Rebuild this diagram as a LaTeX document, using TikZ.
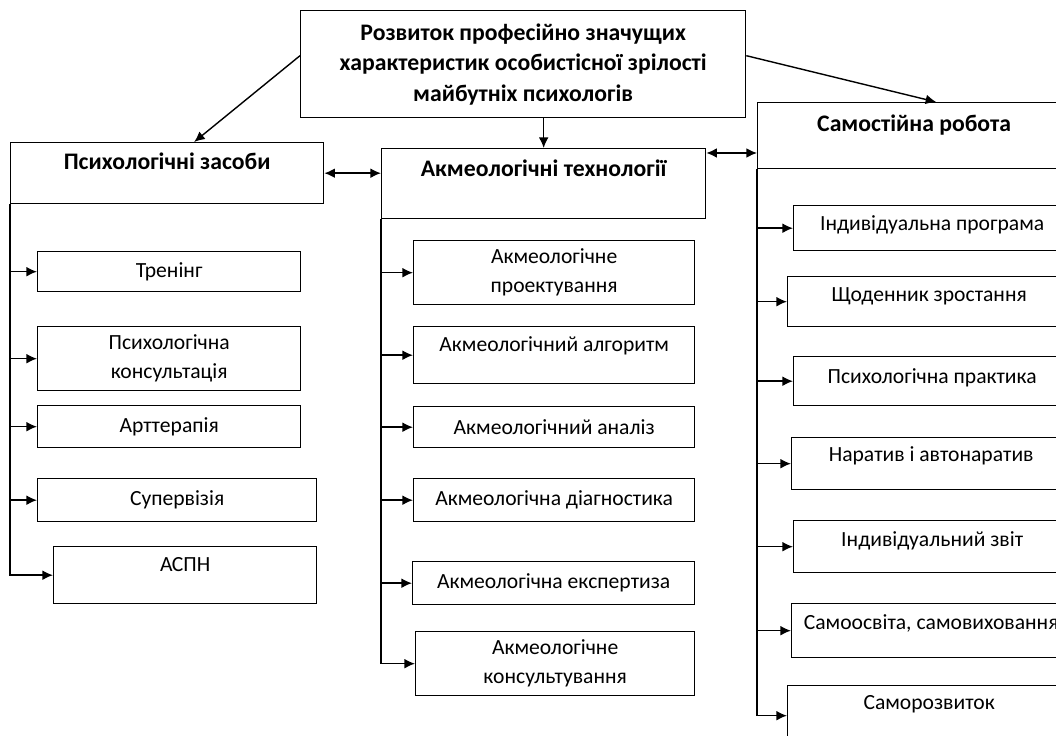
\documentclass[tikz,border=0pt]{standalone}
\usepackage{fontspec}
\setmainfont{Carlito}
\usetikzlibrary{positioning}
\usetikzlibrary{arrows.meta}

\begin{document}
\begin{tikzpicture}[x=0.02cm,y=-0.02cm,
 box/.style={draw,line width=0.8pt,anchor=north west,inner sep=2pt,align=center,font=\fontsize{12.3}{16.5}\selectfont},
 head/.style={box,font=\bfseries\fontsize{13.5}{17.4}\selectfont},
 up/.style={text height=9pt,text depth=#1},
 arr/.style={line width=0.8pt,-{Latex[length=6pt,width=5.5pt]}},
 both/.style={line width=0.8pt,{Latex[length=6pt,width=5.5pt]}-{Latex[length=6pt,width=5.5pt]}}]
 \clip (0,0) rectangle (1056,736);
 \node[head,minimum width=8.9cm,minimum height=2.14cm] (top) at (300,10) {Розвиток професійно значущих\\характеристик особистісної зрілості\\майбутніх психологів};
 \node[head,up=13.2pt,minimum width=6.26cm,minimum height=1.22cm] (psy) at (10,142) {Психологічні засоби};
 \node[head,up=17.7pt,minimum width=6.48cm,minimum height=1.4cm] (akme) at (381,148) {Акмеологічні технології};
 \node[head,up=14.3pt,minimum width=6.26cm,minimum height=1.32cm] (self) at (757,102) {Самостійна робота};

 \node[box,minimum width=5.26cm,minimum height=0.8cm] (tr) at (37,251) {Тренінг};
 \node[box,minimum width=5.26cm,minimum height=1.28cm] (kons) at (37,326) {Психологічна\\консультація};
 \node[box,minimum width=5.26cm,minimum height=0.84cm] (art) at (37,405) {Арттерапія};
 \node[box,minimum width=5.58cm,minimum height=0.86cm] (sup) at (37,478) {Супервізія};
 \node[box,up=13.2pt,minimum width=5.26cm,minimum height=1.14cm] (aspn) at (53,546) {АСПН};

 \node[box,minimum width=5.62cm,minimum height=1.28cm] (proj) at (413,240) {Акмеологічне\\проектування};
 \node[box,up=13.2pt,minimum width=5.62cm,minimum height=1.14cm] (alg) at (413,326) {Акмеологічний алгоритм};
 \node[box,minimum width=5.62cm,minimum height=0.82cm] (anal) at (413,406) {Акмеологічний аналіз};
 \node[box,minimum width=5.62cm,minimum height=0.86cm] (diag) at (413,478) {Акмеологічна діагностика};
 \node[box,minimum width=5.64cm,minimum height=0.86cm] (exp) at (412,561) {Акмеологічна експертиза};
 \node[box,minimum width=5.58cm,minimum height=1.28cm] (kon) at (415,631) {Акмеологічне\\консультування};

 \node[box,up=6.4pt,minimum width=5.54cm,minimum height=0.9cm] (prog) at (793,205) {Індивідуальна програма};
 \node[box,up=8.7pt,minimum width=5.66cm,minimum height=1cm] (shch) at (787,276) {Щоденник зростання};
 \node[box,up=6.4pt,minimum width=5.54cm,minimum height=0.98cm] (prak) at (793,356) {Психологічна практика};
 \node[box,up=11pt,minimum width=5.58cm,minimum height=1.04cm] (nar) at (791,437) {Наратив і автонаратив};
 \node[box,up=8.7pt,minimum width=5.54cm,minimum height=1.04cm] (zvit) at (793,520) {Індивідуальний звіт};
 \node[box,up=9.8pt,minimum width=5.58cm,minimum height=1.08cm] (osv) at (791,603) {Самоосвіта, самовиховання};
 \node[box,up=15.5pt,minimum width=5.66cm,minimum height=1.2cm] (rozv) at (787,685) {Саморозвиток};

 \draw[arr] ([yshift=0.17cm]top.west) -- ([xshift=0.54cm]psy.north);
 \draw[arr] (top.south -| akme.north) -- (akme.north);
 \draw[arr] ([yshift=0.17cm]top.east) -- ([xshift=0.44cm]self.north);
 \draw[both] (psy.east) -- (psy.east -| akme.west);
 \draw[both] ([yshift=-0.1cm]akme.north east) -- ([yshift=-0.1cm]akme.north east -| self.west);

 \draw[arr] (psy.south west) |- (aspn.west);
 \foreach \b in {tr,kons,art,sup}
  \draw[arr] (psy.south west |- \b.west) -- (\b.west);
 \draw[arr] (akme.south west) |- (kon.west);
 \foreach \b in {proj,alg,anal,diag,exp}
  \draw[arr] (akme.south west |- \b.west) -- (\b.west);
 \draw[arr] (self.south west) |- (rozv.west);
 \foreach \b in {prog,shch,prak,nar,zvit,osv}
  \draw[arr] (self.south west |- \b.west) -- (\b.west);
\end{tikzpicture}
\end{document}
